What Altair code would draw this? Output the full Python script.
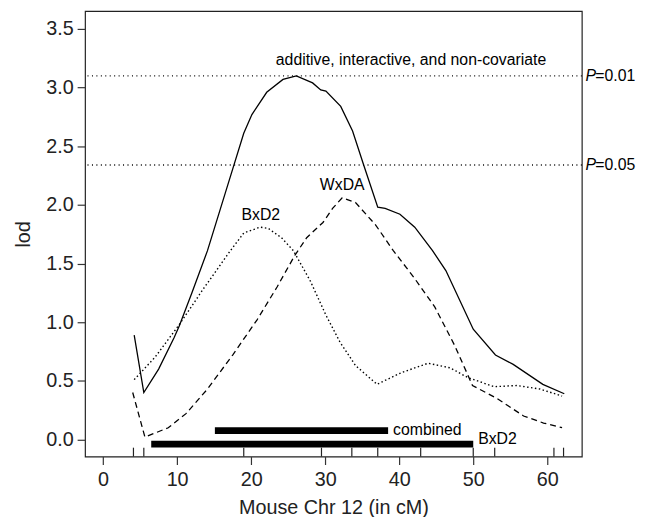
import altair as alt
import pandas as pd

# ---- data ----
solid_x = [4.2, 5.5, 7.5, 9.6, 10.3, 12.0, 14.1, 16.5, 19.0, 20.1, 22.1, 24.3, 26.1, 28.3, 29.4, 30.1,
           32.1, 33.7, 35.2, 37.1, 38.1, 40.1, 42.1, 44.5, 46.3, 50.0, 53.0, 55.4, 59.4, 62.3]
solid_y = [0.89, 0.40, 0.60, 0.87, 0.97, 1.25, 1.61, 2.10, 2.61, 2.77, 2.96, 3.07, 3.10, 3.04, 2.98, 2.97,
           2.84, 2.63, 2.34, 1.98, 1.97, 1.92, 1.81, 1.61, 1.44, 0.94, 0.72, 0.64, 0.47, 0.39]

bxd2_x = [4.2, 7.0, 10.3, 13.5, 17.2, 19.0, 21.2, 22.3, 24.1, 25.7, 28.0, 30.1, 32.0, 34.1, 37.0,
          40.3, 43.9, 46.9, 49.2, 52.8, 55.9, 59.0, 62.0]
bxd2_y = [0.51, 0.70, 0.98, 1.28, 1.61, 1.76, 1.81, 1.80, 1.72, 1.61, 1.35, 1.06, 0.83, 0.63, 0.47,
          0.57, 0.65, 0.61, 0.53, 0.45, 0.46, 0.43, 0.37]

wxda_x = [4.0, 5.65, 8.8, 11.2, 14.1, 17.5, 20.8, 23.5, 25.9, 27.5, 29.7, 31.0, 32.3, 34.1, 36.8,
          39.2, 42.0, 44.8, 47.5, 49.9, 53.2, 56.8, 59.5, 62.0]
wxda_y = [0.40, 0.02, 0.10, 0.22, 0.43, 0.72, 1.02, 1.30, 1.57, 1.72, 1.85, 1.97, 2.06, 2.02, 1.83,
          1.61, 1.38, 1.13, 0.80, 0.46, 0.35, 0.20, 0.14, 0.10]

marker_x = [4.1, 5.5, 19.0, 29.5, 33.6, 37.1, 42.9, 50.0, 52.9, 60.9, 62.2]

thresh_y = [3.10, 2.34]
thresh_lbl = ["=0.01", "=0.05"]

interval_name = ["combined", "BxD2"]
interval_start = [15.1, 6.5]
interval_end = [38.5, 50.0]
interval_y = [0.075, -0.04]
interval_lbl_y = [0.078, 0.0]

ann_text = ["BxD2", "WxDA", "additive, interactive, and non-covariate"]
ann_x = [21.3, 32.3, 41.6]
ann_y = [1.91, 2.17, 3.235]

x_ticks = [0, 10, 20, 30, 40, 50, 60]
y_ticks = [0.0, 0.5, 1.0, 1.5, 2.0, 2.5, 3.0, 3.5]

FONT = "Liberation Sans"
FS = 16
W, H = 503, 451

xs = alt.Scale(domain=[-2.44, 64.67], nice=False, zero=False)
ys = alt.Scale(domain=[-0.146, 3.652], nice=False, zero=False)
x_axis = alt.Axis(values=x_ticks, title="Mouse Chr 12 (in cM)", grid=False, domain=False,
                  tickSize=8, labelPadding=5, titlePadding=9, format="d")
y_axis = alt.Axis(values=y_ticks, title="lod", grid=False, domain=False, format=".1f",
                  tickSize=8, labelPadding=4, titlePadding=12)
X = alt.X("x:Q", scale=xs, axis=x_axis)
Y = alt.Y("y:Q", scale=ys, axis=y_axis)

def line_df(xv, yv):
    return pd.DataFrame({"x": xv, "y": yv})

solid = alt.Chart(line_df(solid_x, solid_y)).mark_line(color="black", strokeWidth=1.3).encode(x=X, y=Y)
dotted = alt.Chart(line_df(bxd2_x, bxd2_y)).mark_line(color="black", strokeWidth=1.4,
                                                      strokeDash=[1.5, 2.5]).encode(x=X, y=Y)
dashed = alt.Chart(line_df(wxda_x, wxda_y)).mark_line(color="black", strokeWidth=1.3,
                                                      strokeDash=[6, 4]).encode(x=X, y=Y)

thr_df = pd.DataFrame({"y": thresh_y, "lbl": thresh_lbl, "x": [65.16] * len(thresh_y)})
thr = alt.Chart(thr_df).mark_rule(color="black", strokeWidth=1.3, strokeDash=[1, 3.5]).encode(y=Y)
thr_p = alt.Chart(thr_df).mark_text(align="left", baseline="middle", font=FONT, fontSize=FS,
                                    fontStyle="italic", color="black").encode(x=X, y=Y, text=alt.value("P"))
thr_t = alt.Chart(thr_df).mark_text(align="left", baseline="middle", font=FONT, fontSize=FS,
                                    dx=10, color="black").encode(x=X, y=Y, text="lbl:N")

rug = alt.Chart(pd.DataFrame({"x": marker_x})).mark_rule(color="#222", strokeWidth=1.2).encode(
    x=X, y=alt.value(H), y2=alt.value(H - 9))

iv_df = pd.DataFrame({"name": interval_name, "x": interval_start, "x2": interval_end,
                      "y": interval_y, "ly": interval_lbl_y})
bars = alt.Chart(iv_df).mark_rule(color="black", strokeWidth=7, strokeCap="butt").encode(
    x=X, x2="x2:Q", y=Y)
bar_lbl = alt.Chart(iv_df).mark_text(align="left", baseline="middle", font=FONT, fontSize=FS,
                                     dx=5, color="black").encode(
    x=alt.X("x2:Q", scale=xs, axis=x_axis), y=alt.Y("ly:Q", scale=ys, axis=y_axis), text="name:N")

ann = alt.Chart(pd.DataFrame({"x": ann_x, "y": ann_y, "t": ann_text})).mark_text(
    align="center", baseline="middle", font=FONT, fontSize=FS, color="black").encode(x=X, y=Y, text="t:N")

chart = alt.layer(thr, solid, dotted, dashed, rug, bars, bar_lbl, ann, thr_p, thr_t).properties(
    width=W, height=H,
    autosize=alt.AutoSizeParams(type="none"),
    padding={"left": 78, "top": 0, "right": 68, "bottom": 58},
    background="white",
).configure_view(stroke="#222", strokeWidth=1.2).configure_axis(
    labelFont=FONT, titleFont=FONT, labelFontSize=20, titleFontSize=20, titleFontWeight="normal",
    labelColor="#222", titleColor="#222", tickColor="#333", tickWidth=1.2,
)

chart.save("out.html", embed_options={"renderer": "svg", "actions": False})
